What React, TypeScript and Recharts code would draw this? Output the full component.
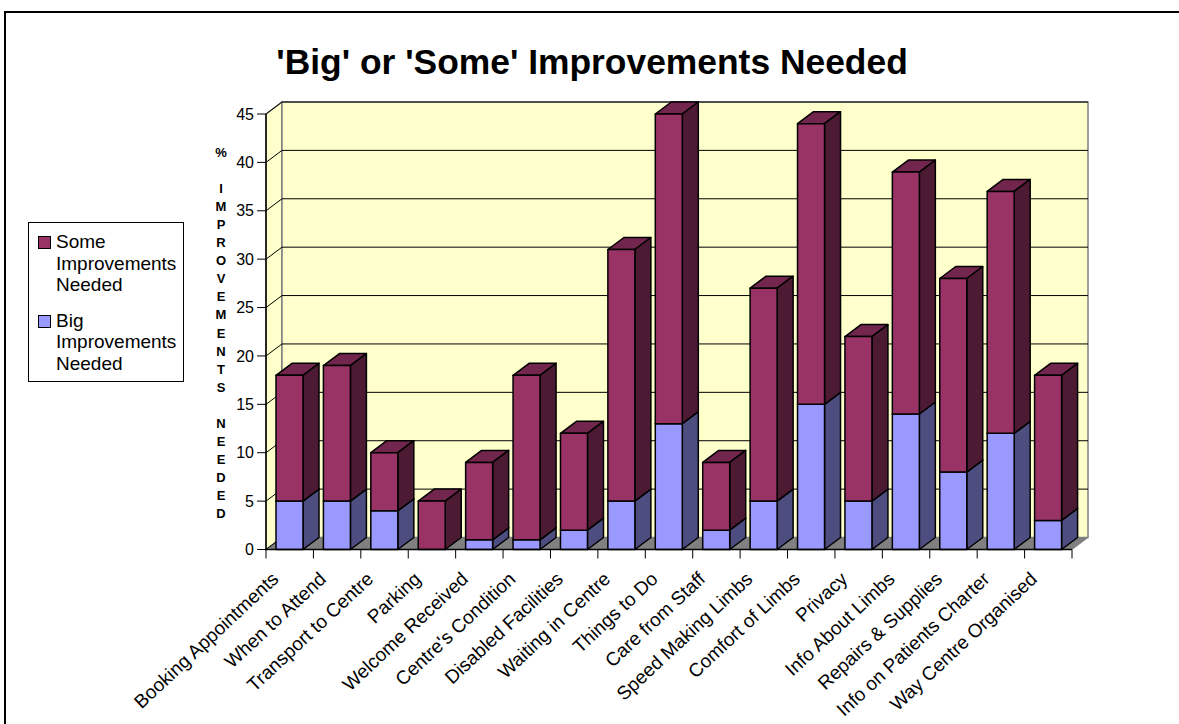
import React from "react";
import { BarChart, Bar, XAxis, YAxis, CartesianGrid, Legend } from "recharts";

const categories = [
  "Booking Appointments",
  "When to Attend",
  "Transport to Centre",
  "Parking",
  "Welcome Received",
  "Centre's Condition",
  "Disabled Facilities",
  "Waiting in Centre",
  "Things to Do",
  "Care from Staff",
  "Speed Making Limbs",
  "Comfort of Limbs",
  "Privacy",
  "Info About Limbs",
  "Repairs & Supplies",
  "Info on Patients Charter",
  "Way Centre Organised",
];
const bigValues = [5, 5, 4, 0, 1, 1, 2, 5, 13, 2, 5, 15, 5, 14, 8, 12, 3];
const someValues = [13, 14, 6, 5, 8, 17, 10, 26, 32, 7, 22, 29, 17, 25, 20, 25, 15];
const yTicks = [0, 5, 10, 15, 20, 25, 30, 35, 40, 45];

const data = categories.map((name, i) => ({ name, big: bigValues[i], some: someValues[i] }));

const W = 1179;
const H = 724;
const PLOT = { left: 266, top: 114, right: 1072, bottom: 549.5 };
const DX = 16;
const DY = 12;
const BAND = (PLOT.right - PLOT.left) / categories.length;
const LEGEND = { left: 28, top: 222, width: 156, height: 160 };
const FONT = "'Liberation Sans', Arial, sans-serif";

// front, side, top
const BIG_COLORS = ["#9999ff", "#4d4d80", "#737fbf"];
const SOME_COLORS = ["#993366", "#4d1a33", "#73264d"];

const pts = (list: number[][]) => list.map((p) => p.join(",")).join(" ");

function Box3D(props: any) {
  const { x, y, width, height, colors } = props;
  if (!height || height <= 0) return null;
  const r = x + width;
  const b = y + height;
  const edge = { stroke: "#000", strokeWidth: 1.5, strokeLinejoin: "round" as const };
  return (
    <g>
      <polygon points={pts([[x, y], [r, y], [r + DX, y - DY], [x + DX, y - DY]])} fill={colors[2]} {...edge} />
      <polygon points={pts([[r, y], [r + DX, y - DY], [r + DX, b - DY], [r, b]])} fill={colors[1]} {...edge} />
      <rect x={x} y={y} width={width} height={height} fill={colors[0]} {...edge} />
    </g>
  );
}

// gridlines run along the side wall and then across the back wall
function WallLine(props: any) {
  const { x1, x2, y1 } = props;
  return (
    <g>
      <line x1={x1} y1={y1} x2={x1 + DX} y2={y1 - DY} stroke="#000" strokeWidth={1} />
      {y1 < PLOT.bottom - 1 && <line x1={x1 + DX} y1={y1 - DY} x2={x2 + DX} y2={y1 - DY} stroke="#000" strokeWidth={1} />}
    </g>
  );
}

function CategoryTick(props: any) {
  const { x, payload, index } = props;
  const left = x - BAND / 2;
  const ax = x - 10;
  const ay = PLOT.bottom + 31;
  return (
    <g>
      <line x1={left} y1={PLOT.bottom} x2={left} y2={PLOT.bottom + 9} stroke="#000" />
      {index === categories.length - 1 && (
        <line x1={left + BAND} y1={PLOT.bottom} x2={left + BAND} y2={PLOT.bottom + 9} stroke="#000" />
      )}
      <text
        x={ax}
        y={ay}
        textAnchor="end"
        transform={`rotate(-43 ${ax} ${ay})`}
        fontSize={19}
        fontFamily={FONT}
        fill="#000"
      >
        {payload.value}
      </text>
    </g>
  );
}

function AxisCaption() {
  const letters = "% IMPROVEMENTS NEEDED".split("");
  return (
    <text x={221} y={157} textAnchor="middle" fontSize={13} fontWeight="bold" fontFamily={FONT} fill="#000">
      {letters.map((ch, i) => (
        <tspan key={i} x={221} y={157 + i * 18.05}>
          {ch === " " ? "\u00a0" : ch}
        </tspan>
      ))}
    </text>
  );
}

function LegendBox() {
  const rows = [
    { color: SOME_COLORS[0], label: "Some Improvements Needed" },
    { color: BIG_COLORS[0], label: "Big Improvements Needed" },
  ];
  return (
    <div
      style={{
        boxSizing: "border-box",
        width: LEGEND.width,
        height: LEGEND.height,
        border: "1px solid #000",
        background: "#fff",
        padding: "8px 0 0 8px",
        fontFamily: FONT,
        fontSize: 19,
        lineHeight: "21.5px",
        color: "#000",
      }}
    >
      {rows.map((row, i) => (
        <div key={row.label} style={{ position: "relative", paddingLeft: 19, marginTop: i ? 14 : 0 }}>
          <span
            style={{
              position: "absolute",
              left: 1,
              top: 5,
              width: 11,
              height: 11,
              border: "1px solid #000",
              background: row.color,
            }}
          />
          {row.label}
        </div>
      ))}
    </div>
  );
}

export default function App() {
  const { left, top, right, bottom } = PLOT;
  return (
    <div style={{ position: "absolute", left: 0, top: 0, width: W, height: H, background: "#fff" }}>
      <svg width={W} height={H} style={{ position: "absolute", left: 0, top: 0 }}>
        <path d={`M5 ${H} V12 H${W} `} fill="none" stroke="#000" strokeWidth={2} />
        <polygon points={pts([[left, top], [left + DX, top - DY], [left + DX, bottom - DY], [left, bottom]])} fill="#ffffcc" stroke="#808080" strokeWidth={1.5} />
        <polygon points={pts([[left + DX, top - DY], [right + DX, top - DY], [right + DX, bottom - DY], [left + DX, bottom - DY]])} fill="#ffffcc" stroke="#808080" strokeWidth={1.5} />
        <polygon points={pts([[left, bottom], [left + DX, bottom - DY], [right + DX, bottom - DY], [right, bottom]])} fill="#808080" stroke="#808080" />
      </svg>
      <BarChart
        width={W}
        height={H}
        data={data}
        barSize={27}
        margin={{ left: LEGEND.left, top, right: W - right, bottom: 0 }}
        style={{ position: "absolute", left: 0, top: 0 }}
      >
        <CartesianGrid vertical={false} horizontal={(p: any) => <WallLine key={p.y1} {...p} />} />
        <XAxis
          dataKey="name"
          interval={0}
          height={H - bottom}
          axisLine={{ stroke: "#000", strokeWidth: 1.5 }}
          tickLine={false}
          tick={<CategoryTick />}
        />
        <YAxis
          domain={[0, 45]}
          ticks={yTicks}
          interval={0}
          width={left - LEGEND.left - LEGEND.width}
          axisLine={{ stroke: "#000", strokeWidth: 1.5 }}
          tickLine={{ stroke: "#000" }}
          tickSize={9}
          tickMargin={3}
          tick={{ fontSize: 16, fontFamily: FONT, fill: "#000" }}
        />
        <Bar dataKey="big" stackId="a" name="Big Improvements Needed" isAnimationActive={false} shape={(p: any) => <Box3D {...p} colors={BIG_COLORS} />} />
        <Bar dataKey="some" stackId="a" name="Some Improvements Needed" isAnimationActive={false} shape={(p: any) => <Box3D {...p} colors={SOME_COLORS} />} />
        <AxisCaption />
        <Legend
          layout="vertical"
          align="left"
          verticalAlign="top"
          content={<LegendBox />}
          wrapperStyle={{ left: LEGEND.left, top: LEGEND.top, width: LEGEND.width }}
        />
        <text x={592} y={74} textAnchor="middle" fontSize={35.4} fontWeight="bold" fontFamily={FONT} fill="#000">
          'Big' or 'Some' Improvements Needed
        </text>
      </BarChart>
    </div>
  );
}
